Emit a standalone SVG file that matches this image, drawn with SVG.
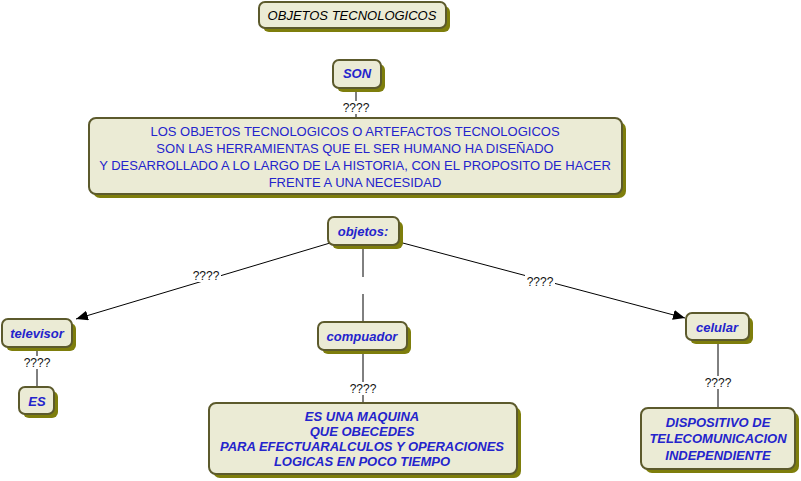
<svg xmlns="http://www.w3.org/2000/svg" width="801" height="481" viewBox="0 0 801 481">
<style>
.sh{fill:#7e7e0c;}
.bx{fill:#ebebd5;stroke:#5c5a2c;stroke-width:2;}
.t{font-family:"Liberation Sans",Arial,sans-serif;font-size:13px;text-anchor:middle;fill:#2424cc;}
.bi{font-weight:bold;font-style:italic;}
.ttl{fill:#000;font-style:italic;}
.ln{stroke:#000;stroke-width:1;fill:none;}
.lb{font-family:"Liberation Sans",Arial,sans-serif;font-size:12px;text-anchor:middle;fill:#111;}
.lbg{fill:#fff;}
</style>
<defs>
<marker id="ah" markerWidth="12" markerHeight="10" refX="12" refY="5" orient="auto" markerUnits="userSpaceOnUse">
<path d="M0,0 L12,5 L0,10 Z" fill="#000"/>
</marker>
</defs>
<rect width="801" height="481" fill="#fff"/>
<g id="connectors">
<line class="ln" x1="356" y1="88" x2="356" y2="118"/>
<rect class="lbg" x="341" y="101" width="30" height="13"/>
<text class="lb" x="356" y="112">????</text>
<line class="ln" x1="330" y1="243" x2="76" y2="319" marker-end="url(#ah)"/>
<rect class="lbg" x="191" y="269" width="30" height="13"/>
<text class="lb" x="206" y="280">????</text>
<line class="ln" x1="399" y1="242" x2="685" y2="318" marker-end="url(#ah)"/>
<rect class="lbg" x="525" y="274" width="30" height="13"/>
<text class="lb" x="540" y="286">????</text>
<line class="ln" x1="363" y1="246" x2="363" y2="277"/>
<line class="ln" x1="363" y1="294" x2="363" y2="322"/>
<line class="ln" x1="37" y1="347" x2="37" y2="387"/>
<rect class="lbg" x="22" y="356" width="30" height="13"/>
<text class="lb" x="37" y="367">????</text>
<line class="ln" x1="363" y1="350" x2="363" y2="403"/>
<rect class="lbg" x="348" y="382" width="30" height="13"/>
<text class="lb" x="363" y="393">????</text>
<line class="ln" x1="718" y1="340" x2="718" y2="408"/>
<rect class="lbg" x="703" y="376" width="30" height="13"/>
<text class="lb" x="718" y="387">????</text>
</g>
<g id="title">
<rect class="sh" x="263" y="6" width="187" height="26" rx="6"/>
<rect class="bx" x="259" y="2" width="187" height="26" rx="6"/>
<text class="t ttl" x="352" y="20">OBJETOS TECNOLOGICOS</text>
</g>
<g id="son">
<rect class="sh" x="337" y="64" width="48" height="28" rx="6"/>
<rect class="bx" x="333" y="60" width="48" height="28" rx="6"/>
<text class="t bi" x="357" y="78">SON</text>
</g>
<g id="definicion">
<rect class="sh" x="93" y="122" width="533" height="76" rx="7"/>
<rect class="bx" x="89" y="118" width="533" height="76" rx="7"/>
<text class="t" x="355" y="136">LOS OBJETOS TECNOLOGICOS O ARTEFACTOS TECNOLOGICOS</text>
<text class="t" x="355" y="153">SON LAS HERRAMIENTAS QUE EL SER HUMANO HA DISEÑADO</text>
<text class="t" x="355" y="170">Y DESARROLLADO A LO LARGO DE LA HISTORIA, CON EL PROPOSITO DE HACER</text>
<text class="t" x="355" y="187">FRENTE A UNA NECESIDAD</text>
</g>
<g id="objetos">
<rect class="sh" x="332" y="221" width="71" height="28" rx="6"/>
<rect class="bx" x="328" y="217" width="71" height="28" rx="6"/>
<text class="t bi" x="363" y="236">objetos:</text>
</g>
<g id="televisor">
<rect class="sh" x="6" y="323" width="70" height="28" rx="6"/>
<rect class="bx" x="2" y="319" width="70" height="28" rx="6"/>
<text class="t bi" x="37" y="338">televisor</text>
</g>
<g id="es">
<rect class="sh" x="23" y="391" width="35" height="27" rx="6"/>
<rect class="bx" x="19" y="387" width="35" height="27" rx="6"/>
<text class="t bi" x="37" y="406">ES</text>
</g>
<g id="compuador">
<rect class="sh" x="322" y="326" width="89" height="28" rx="6"/>
<rect class="bx" x="318" y="322" width="89" height="28" rx="6"/>
<text class="t bi" x="362" y="341">compuador</text>
</g>
<g id="celular">
<rect class="sh" x="690" y="317" width="63" height="27" rx="6"/>
<rect class="bx" x="686" y="313" width="63" height="27" rx="6"/>
<text class="t bi" x="717" y="332">celular</text>
</g>
<g id="maquina">
<rect class="sh" x="213" y="407" width="308" height="71" rx="7"/>
<rect class="bx" x="209" y="403" width="308" height="71" rx="7"/>
<text class="t bi" x="362" y="421">ES UNA MAQUINA</text>
<text class="t bi" x="362" y="436">QUE OBECEDES</text>
<text class="t bi" x="362" y="451">PARA EFECTUARALCULOS Y OPERACIONES</text>
<text class="t bi" x="362" y="466">LOGICAS EN POCO TIEMPO</text>
</g>
<g id="dispositivo">
<rect class="sh" x="645" y="412" width="154" height="61" rx="7"/>
<rect class="bx" x="641" y="408" width="154" height="61" rx="7"/>
<text class="t bi" x="718" y="427">DISPOSITIVO DE</text>
<text class="t bi" x="718" y="443">TELECOMUNICACION</text>
<text class="t bi" x="718" y="460">INDEPENDIENTE</text>
</g>
</svg>
